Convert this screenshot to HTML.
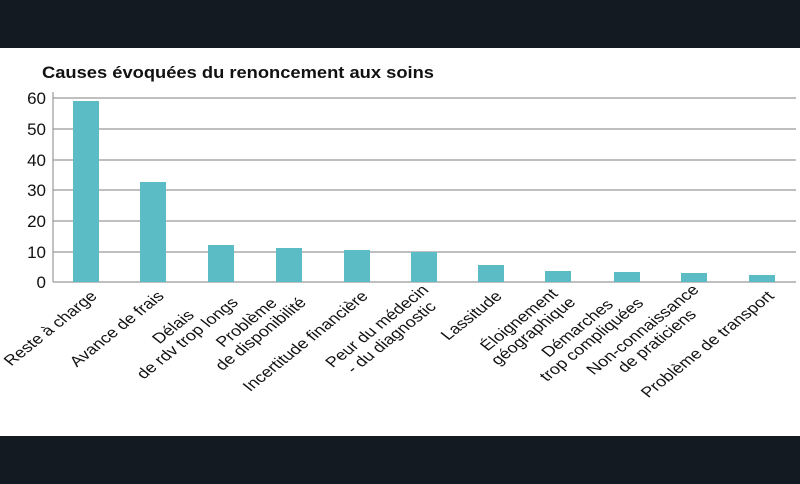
<!DOCTYPE html>
<html><head><meta charset="utf-8"><style>
html,body{margin:0;padding:0;background:#141a22;}
svg{display:block}
text{font-family:"Liberation Sans",sans-serif;fill:#111}
</style></head><body>
<svg width="800" height="484" viewBox="0 0 800 484" xmlns="http://www.w3.org/2000/svg">
<rect x="0" y="0" width="800" height="484" fill="#141a22"/>
<rect x="0" y="48" width="800" height="388" fill="#ffffff"/>
<text x="42" y="78" font-size="17" font-weight="bold" textLength="392" lengthAdjust="spacingAndGlyphs">Causes évoquées du renoncement aux soins</text>
<g stroke="#999" stroke-width="1.2">
<line x1="53" y1="98" x2="796" y2="98"/>
<line x1="53" y1="129" x2="796" y2="129"/>
<line x1="53" y1="160" x2="796" y2="160"/>
<line x1="53" y1="190" x2="796" y2="190"/>
<line x1="53" y1="221" x2="796" y2="221"/>
<line x1="53" y1="252" x2="796" y2="252"/>
<line x1="53" y1="282" x2="796" y2="282"/>
<line x1="53" y1="92" x2="53" y2="282"/>
</g>
<g font-size="17" text-anchor="end">
<text x="46" y="104">60</text><text x="46" y="135">50</text><text x="46" y="166">40</text>
<text x="46" y="196">30</text><text x="46" y="227">20</text><text x="46" y="258">10</text>
<text x="46" y="288">0</text>
</g>
<g fill="#5bbcc5">
<rect x="73" y="101" width="26" height="181"/>
<rect x="140" y="182" width="26" height="100"/>
<rect x="208" y="245" width="26" height="37"/>
<rect x="276" y="248" width="26" height="34"/>
<rect x="344" y="250" width="26" height="32"/>
<rect x="411" y="252" width="26" height="30"/>
<rect x="478" y="265" width="26" height="17"/>
<rect x="545" y="271" width="26" height="11"/>
<rect x="614" y="272" width="26" height="10"/>
<rect x="681" y="273" width="26" height="9"/>
<rect x="749" y="275" width="26" height="7"/>
</g>
<g font-size="14.5" text-anchor="end">
<g transform="translate(98,297) scale(1.25,1) rotate(-45)"><text>Reste à charge</text></g>
<g transform="translate(165,297) scale(1.25,1) rotate(-45)"><text>Avance de frais</text></g>
<g transform="translate(233,297) scale(1.25,1) rotate(-45)" text-anchor="middle"><text x="-55" y="-8">Délais</text><text x="-55" y="8">de rdv trop longs</text></g>
<g transform="translate(301,297) scale(1.25,1) rotate(-45)" text-anchor="middle"><text x="-49" y="-8">Problème</text><text x="-49" y="8">de disponibilité</text></g>
<g transform="translate(369,297) scale(1.25,1) rotate(-45)"><text>Incertitude financière</text></g>
<g transform="translate(436,297) scale(1.25,1) rotate(-45)" text-anchor="middle"><text x="-54" y="-8">Peur du médecin</text><text x="-54" y="8">- du diagnostic</text></g>
<g transform="translate(503,297) scale(1.25,1) rotate(-45)"><text>Lassitude</text></g>
<g transform="translate(570,297) scale(1.25,1) rotate(-45)" text-anchor="middle"><text x="-45" y="-8">Éloignement</text><text x="-45" y="8">géographique</text></g>
<g transform="translate(639,297) scale(1.25,1) rotate(-45)" text-anchor="middle"><text x="-57" y="-8">Démarches</text><text x="-57" y="8">trop compliquées</text></g>
<g transform="translate(706,297) scale(1.25,1) rotate(-45)" text-anchor="middle"><text x="-59" y="-8">Non-connaissance</text><text x="-59" y="8">de praticiens</text></g>
<g transform="translate(775,297) scale(1.25,1) rotate(-45)"><text>Problème de transport</text></g>
</g>
</svg>
</body></html>
